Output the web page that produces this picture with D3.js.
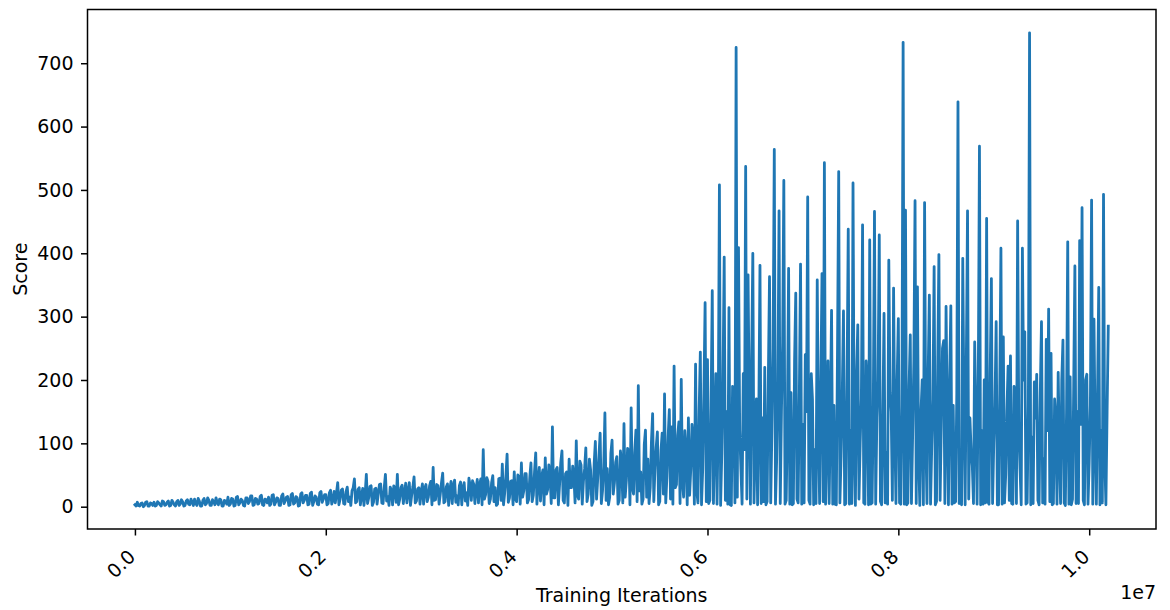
<!DOCTYPE html>
<html>
<head>
<meta charset="utf-8">
<script src="https://cdn.jsdelivr.net/npm/d3@7"></script>
<style>
  body { margin: 0; background: #fff; }
  text { font-family: "DejaVu Sans", sans-serif; fill: #000; }
</style>
</head>
<body>
<svg id="chart" width="1170" height="610"></svg>
<script>
// one score per logged step, STEP iterations apart
var STEP = 12500;
var scores = [
  // 0 .. 2.1e6
  3,1, 7,2, 1,5, 6,0, 2,7, 8,1, 1,6, 5,2, 7,1, 2,8, 6,3, 1,9, 8,2, 3,7, 9,1, 2,10, 7,3, 1,8, 10,2, 4,11,
  8,1, 2,9, 11,4, 3,12, 7,2, 12,5, 2,13, 9,1, 1,10, 13,3, 5,14, 10,2, 2,11, 8,3, 14,6, 3,12, 11,1, 1,10, 9,4, 15,2,
  4,13, 12,1, 2,15, 16,3, 6,12, 10,2, 1,14, 14,5, 8,17, 17,2, 3,13, 12,4, 5,16, 18,3, 2,12, 11,6, 15,2, 4,18, 19,3, 7,14,
  13,2, 2,17, 20,5, 9,15, 16,2, 3,19, 21,4, 6,16, 14,1, 2,20, 22,6, 10,18, 18,3, 4,21, 23,2, 8,17, 15,4, 3,22, 24,7, 12,19,
  19,3, 5,22, 26,4, 10,24,
  // 2.1e6 .. 4.1e6
  6,22, 38,3, 12,26, 28,5, 4,24, 31,8, 15,2, 25,30, 44,6, 8,27, 30,3, 18,29, 2,20, 51,5, 14,32, 33,2,
  7,28, 29,4, 20,35, 36,6, 5,30, 51,9, 16,2, 31,26, 3,33, 27,7, 51,3, 12,30, 34,5, 21,37, 6,24, 38,2, 18,31, 47,6, 9,28, 30,4,
  24,36, 4,29, 35,8, 15,33, 40,3, 62,10, 11,35, 33,4, 20,38, 53,6, 8,31, 36,2, 26,40, 5,33, 42,7, 17,3, 33,39, 3,30, 38,9, 22,2,
  45,34, 10,41, 36,5, 28,43, 6,35, 44,3, 90,12, 19,46, 40,5, 12,38, 49,8, 30,2, 4,44, 45,10, 67,3, 22,48, 83,7, 14,40, 41,3, 55,12,
  8,50, 47,4, 69,15, 25,52, 52,6, 11,46,
  // 4.15e6 .. 5.9e6
  69,8, 18,55, 85,4, 40,62, 9,48, 58,3, 77,20, 27,66, 50,5, 126,14, 14,58, 62,3, 35,70, 88,10, 6,52, 55,2, 75,30, 30,64, 48,6, 104,18,
  12,72, 66,4, 40,60, 93,8, 20,75, 58,2, 8,68, 103,12, 45,80, 116,5, 25,62, 148,10, 60,3, 15,84, 105,20, 38,70, 79,4, 10,88, 70,6, 131,15,
  42,92, 88,3, 156,30, 20,85, 121,8, 191,25, 55,4, 12,98, 121,15, 75,5, 30,102, 147,8, 62,94, 118,3, 8,88, 116,20, 178,6, 48,110, 153,12, 126,4,
  222,30, 35,112, 134,5, 201,40, 15,120, 90,3, 140,18, 60,130, 105,4, 225,25,
  // 5.9e6 .. 10.2e6
  6,150, 244,3, 60,180, 322,8, 232,5, 10,160, 341,5, 110,210, 4,130, 508,2, 85,200, 394,10, 150,4, 314,3, 2,190, 180,6, 725,15, 409,120, 60,4, 210,90,
  537,12, 366,160, 4,230, 400,6, 95,170, 3,140, 381,5, 140,8, 220,3, 8,200, 363,6, 120,250, 564,4, 75,190, 467,5, 150,260, 515,4, 10,140, 376,4, 180,3,
  5,230, 337,12, 6,175, 383,4, 130,6, 240,150, 489,10, 4,210, 170,3, 90,5, 358,120, 5,190, 368,8, 543,4, 110,230, 5,140, 310,4, 160,4, 3,250, 529,6,
  80,180, 309,3, 5,200, 438,4, 120,5, 511,90, 2,210, 287,12, 100,170, 445,6, 4,230, 190,3, 421,4, 6,160, 466,4, 140,200, 429,8, 3,140, 305,6, 85,4,
  389,180, 150,10, 345,120, 5,200, 297,6, 4,160, 733,4, 468,3, 6,190, 271,5, 115,230, 483,5, 347,80, 2,150, 200,3, 480,110, 5,210, 334,4, 95,170, 379,3,
  8,220, 398,10, 130,250, 262,5, 316,140, 3,200, 317,4, 160,6, 8,180, 639,5, 90,3, 392,160, 3,230, 467,12, 140,90, 65,5, 260,150, 4,190, 569,3, 120,4,
  200,6, 455,8, 4,210, 360,5, 100,160, 292,3, 3,180, 408,4, 268,6, 50,150, 222,10, 238,5, 4,190, 170,5, 451,120, 60,3, 408,200, 276,4, 6,160, 748,3,
  110,5, 197,140, 209,10, 3,180, 292,6, 75,4, 264,120, 312,8, 242,3, 5,170, 140,4, 212,90, 5,200, 263,6, 2,150, 418,4, 205,3, 12,190, 380,5, 150,5,
  420,130, 472,10, 3,200, 209,4, 70,160, 484,4, 296,110, 4,180, 346,3, 120,6, 493,80, 3,150, 285
];
var xTicks = [0, 2e6, 4e6, 6e6, 8e6, 1e7];
var xTickLabels = ["0.0", "0.2", "0.4", "0.6", "0.8", "1.0"];
var yTicks = [0, 100, 200, 300, 400, 500, 600, 700];

var mLeft = 87.5, mRight = 1156, mTop = 9.5, mBottom = 529;
var fs = 19;
var svg = d3.select("#chart");

var x = d3.scaleLinear().domain([-0.497e6, 10.70e6]).range([mLeft, mRight]);
var y = d3.scaleLinear().domain([-35.2, 784.8]).range([mBottom, mTop]);

var line = d3.line()
  .x(function(d, i) { return x(i * STEP); })
  .y(function(d) { return y(d); });

svg.append("path")
  .datum(scores)
  .attr("d", line)
  .attr("fill", "none")
  .attr("stroke", "#1f77b4")
  .attr("stroke-width", 2.8)
  .attr("stroke-linejoin", "round")
  .attr("stroke-linecap", "square");

// y axis
var yaxis = d3.axisLeft(y).tickValues(yTicks).tickSize(6.5).tickPadding(7.5);
var gy = svg.append("g").attr("transform", "translate(" + mLeft + ",0)").call(yaxis);
gy.select(".domain").remove();
gy.selectAll("line").attr("stroke", "#000").attr("stroke-width", 1.5);
gy.selectAll("text").attr("font-size", fs).style("font-family", "DejaVu Sans");

// x axis
var xaxis = d3.axisBottom(x).tickValues(xTicks).tickSize(6.5)
  .tickFormat(function(d, i) { return xTickLabels[i]; });
var gx = svg.append("g").attr("transform", "translate(0," + mBottom + ")").call(xaxis);
gx.select(".domain").remove();
gx.selectAll("line").attr("stroke", "#000").attr("stroke-width", 1.5);
gx.selectAll("text")
  .attr("font-size", fs)
  .style("font-family", "DejaVu Sans")
  .attr("text-anchor", "end")
  .attr("dy", null)
  .attr("y", 0)
  .attr("transform", "translate(1,29) rotate(-45)");

// frame
svg.append("rect")
  .attr("x", mLeft).attr("y", mTop)
  .attr("width", mRight - mLeft).attr("height", mBottom - mTop)
  .attr("fill", "none").attr("stroke", "#000").attr("stroke-width", 1.5);

svg.append("text")
  .attr("x", (mLeft + mRight) / 2).attr("y", 602)
  .attr("text-anchor", "middle").attr("font-size", fs)
  .text("Training Iterations");

svg.append("text")
  .attr("transform", "translate(27," + (mTop + mBottom) / 2 + ") rotate(-90)")
  .attr("text-anchor", "middle").attr("font-size", fs)
  .text("Score");

svg.append("text")
  .attr("x", mRight).attr("y", 599)
  .attr("text-anchor", "end").attr("font-size", fs)
  .text("1e7");
</script>
</body>
</html>
